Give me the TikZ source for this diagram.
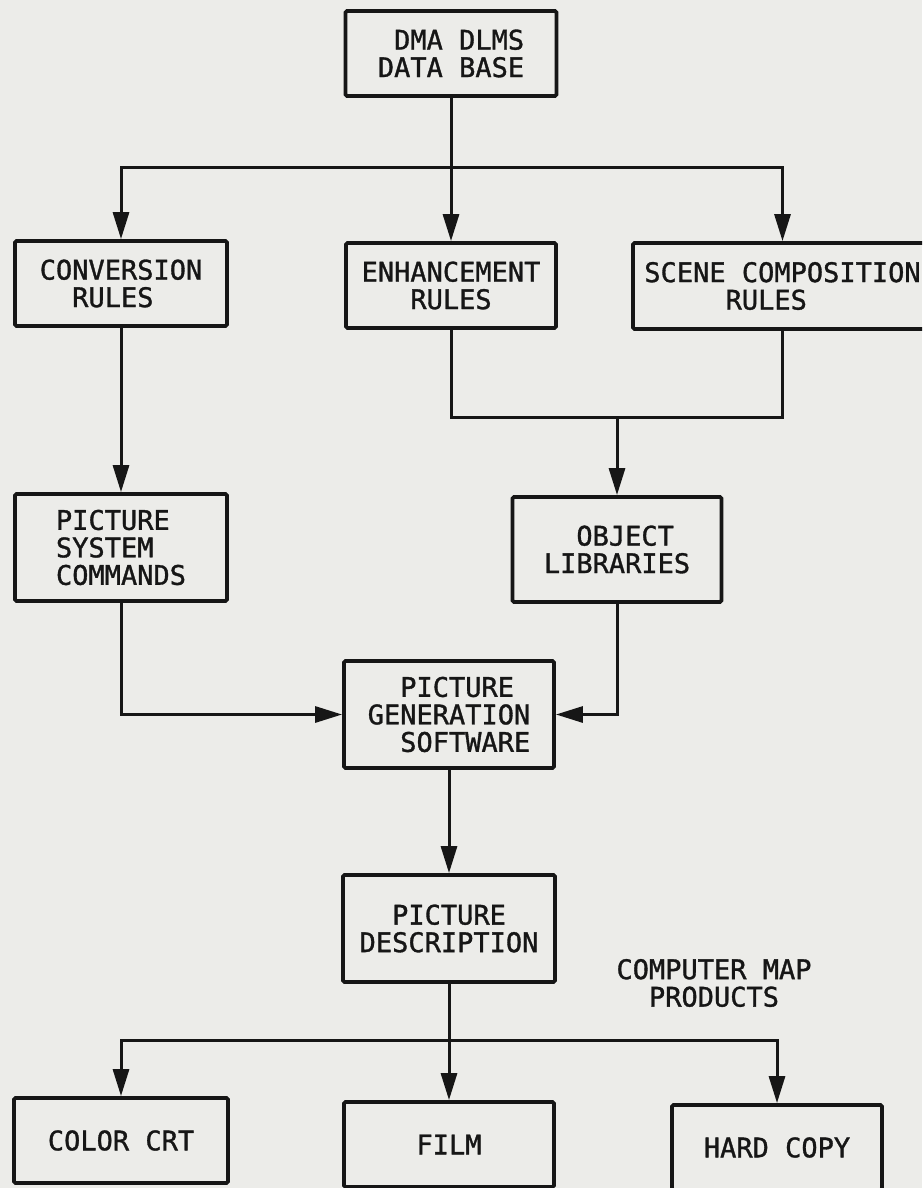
\documentclass[tikz,border=0pt]{standalone}
\usepackage{fontspec}
\newfontfamily\plotfont[FakeBold=1.2]{DejaVu Sans Mono}
\usetikzlibrary{arrows.meta}
\definecolor{paper}{RGB}{236,236,233}
\definecolor{ink}{RGB}{22,22,22}
\begin{document}
\begin{tikzpicture}[x=1pt,y=-1pt,
  box/.style={draw=ink, line width=3.8pt, rounded corners=1.5pt, inner sep=0pt,
    text=ink, font=\plotfont\fontsize{27}{27.5}\selectfont},
  tag/.style={inner sep=0pt, text=ink, align=center,
    font=\plotfont\fontsize{27}{27.5}\selectfont},
  flow/.style={draw=ink, line width=3pt, line join=miter},
  arr/.style={flow, -{Triangle[length=27pt,width=16pt]}}]
\useasboundingbox (0,0) rectangle (922,1188);
\fill[paper] (0,0) rectangle (922,1188);
\clip (0,0) rectangle (922,1188);

% source data base
\node[box, minimum width=211pt, minimum height=85pt, align=right] (db) at (451,53.5)
  {DMA DLMS\\DATA BASE};

% rule sets
\node[box, minimum width=212pt, minimum height=85pt, align=left] (conv) at (121,283.5)
  {CONVERSION\\\hphantom{XX}RULES};
\node[box, minimum width=210pt, minimum height=85pt, align=center] (enh) at (451,285.5)
  {ENHANCEMENT\\RULES};
\node[box, minimum width=299pt, minimum height=86pt, align=left] (scene) at (782.5,286)
  {SCENE COMPOSITION\\\hphantom{XXXXX}RULES};

% intermediate products
\node[box, minimum width=212pt, minimum height=107pt, align=left] (psc) at (121,547.5)
  {PICTURE\\SYSTEM\\COMMANDS};
\node[box, minimum width=209pt, minimum height=105pt, align=left] (obj) at (617,549.5)
  {\hphantom{XX}OBJECT\\LIBRARIES};

% generation and description
\node[box, minimum width=210pt, minimum height=107pt, align=left] (gen) at (449,714.5)
  {\hphantom{XX}PICTURE\\GENERATION\\\hphantom{XX}SOFTWARE};
\node[box, minimum width=212pt, minimum height=107pt, align=center] (desc) at (449,928.5)
  {PICTURE\\DESCRIPTION};

% output devices
\node[box, minimum width=214pt, minimum height=85pt] (crt) at (121,1140.5) {COLOR CRT};
\node[box, minimum width=210pt, minimum height=85pt] (film) at (449,1144.5) {FILM};
\node[box, minimum width=210pt, minimum height=85pt] (hard) at (777,1147.5) {HARD COPY};

\node[tag] (cmp) at (714,983) {COMPUTER MAP\\PRODUCTS};

% connectors
\coordinate (j1) at (451,167);
\draw[flow] (db.south) -- (j1);
\draw[arr] (j1) -| (conv.north);
\draw[arr] (j1) -- (enh.north);
\draw[arr] (j1) -| (scene.north);

\draw[arr] (conv.south) -- (psc.north);

\coordinate (j2) at (617,417);
\draw[flow] (enh.south) |- (j2);
\draw[flow] (scene.south) |- (j2);
\draw[arr] (j2) -- (obj.north);

\draw[arr] (psc.south) |- (gen.west);
\draw[arr] (obj.south) |- (gen.east);
\draw[arr] (gen.south) -- (desc.north);

\coordinate (j3) at (449,1040);
\draw[flow] (desc.south) -- (j3);
\draw[arr] (j3) -| (crt.north);
\draw[arr] (j3) -- (film.north);
\draw[arr] (j3) -| (hard.north);
\end{tikzpicture}
\end{document}
